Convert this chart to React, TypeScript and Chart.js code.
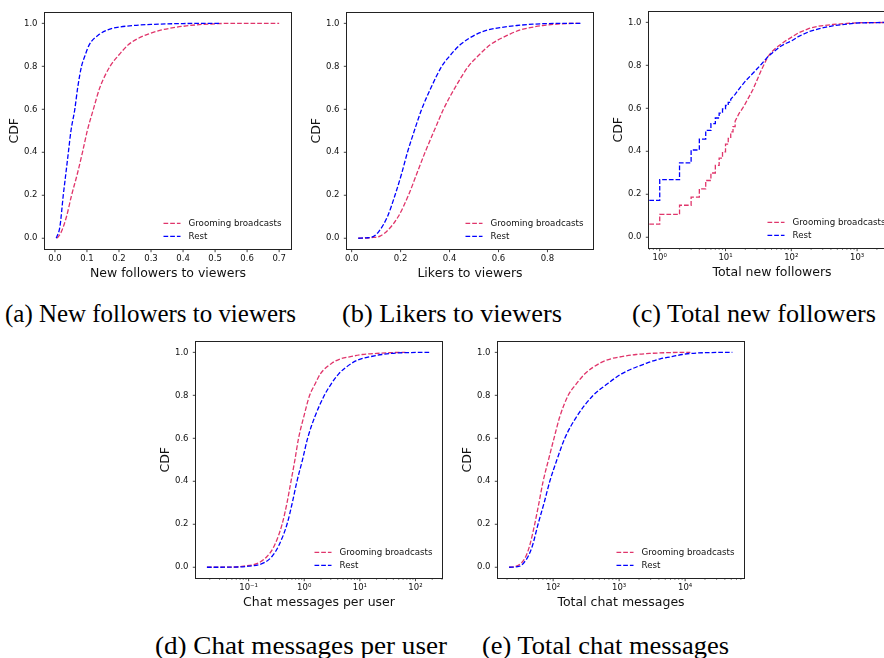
import React, { useEffect, useLayoutEffect, useRef } from 'react';
import { Chart, registerables } from 'chart.js';

Chart.register(...registerables);

// ---------------- data ----------------
const SERIES_LABELS = ['Grooming broadcasts', 'Rest'];
const SERIES_COLORS = ['#E0356B', '#0000FF'];

const Y_TICKS = [0, 0.2, 0.4, 0.6, 0.8, 1.0];
const Y_TICK_LABELS = ['0.0', '0.2', '0.4', '0.6', '0.8', '1.0'];

// (a) New followers to viewers
const A_TICKS = [0, 0.1, 0.2, 0.3, 0.4, 0.5, 0.6, 0.7];
const A_TICK_LABELS = ['0.0', '0.1', '0.2', '0.3', '0.4', '0.5', '0.6', '0.7'];
const A_GROOM_X = [0.007, 0.02, 0.036, 0.052, 0.07, 0.086, 0.101, 0.12, 0.14, 0.172, 0.198, 0.229, 0.26, 0.291, 0.33, 0.37, 0.41, 0.45, 0.5, 0.55, 0.7];
const A_GROOM_Y = [0, 0.03, 0.1, 0.2, 0.3, 0.4, 0.5, 0.6, 0.7, 0.8, 0.85, 0.9, 0.93, 0.95, 0.968, 0.98, 0.988, 0.994, 0.998, 1.0, 1.0];
const A_REST_X = [0.004, 0.0156, 0.026, 0.034, 0.042, 0.05, 0.062, 0.071, 0.083, 0.094, 0.107, 0.14, 0.165, 0.19, 0.245, 0.3, 0.4, 0.517];
const A_REST_Y = [0, 0.054, 0.2, 0.3, 0.4, 0.5, 0.6, 0.7, 0.8, 0.85, 0.9, 0.95, 0.97, 0.98, 0.99, 0.995, 0.999, 1.0];

// (b) Likers to viewers
const B_TICKS = [0, 0.2, 0.4, 0.6, 0.8];
const B_TICK_LABELS = ['0.0', '0.2', '0.4', '0.6', '0.8'];
const B_GROOM_X = [0.027, 0.08, 0.116, 0.15, 0.19, 0.232, 0.266, 0.3, 0.337, 0.375, 0.422, 0.477, 0.518, 0.566, 0.647, 0.69, 0.729, 0.78, 0.825, 0.88, 0.94];
const B_GROOM_Y = [0, 0.003, 0.01, 0.04, 0.1, 0.2, 0.3, 0.4, 0.5, 0.6, 0.7, 0.8, 0.85, 0.9, 0.95, 0.97, 0.98, 0.99, 0.995, 0.999, 1.0];
const B_REST_X = [0.027, 0.06, 0.082, 0.11, 0.146, 0.177, 0.204, 0.228, 0.256, 0.286, 0.324, 0.368, 0.402, 0.443, 0.511, 0.56, 0.606, 0.675, 0.74, 0.8, 0.94];
const B_REST_Y = [0, 0.002, 0.005, 0.03, 0.1, 0.2, 0.3, 0.4, 0.5, 0.6, 0.7, 0.8, 0.85, 0.9, 0.95, 0.97, 0.98, 0.99, 0.996, 0.999, 1.0];

// (c) Total new followers (integer counts: leading values are discrete steps)
const C_TICKS = [1, 10, 100, 1000];
const C_TICK_LABELS = ['10⁰', '10¹', '10²', '10³'];
const C_GROOM_X = [0, 1, 2, 3, 4, 5, 6, 7, 8, 9, 10, 11, 12, 13, 14, 16, 18, 20, 22, 26, 30, 35, 40, 44, 50, 58, 66, 80, 100, 130, 187, 260, 425, 700, 1000, 2000, 3770];
const C_GROOM_Y = [0.061, 0.106, 0.149, 0.187, 0.225, 0.264, 0.299, 0.334, 0.368, 0.397, 0.433, 0.46, 0.49, 0.515, 0.54, 0.575, 0.598, 0.622, 0.645, 0.686, 0.73, 0.778, 0.815, 0.84, 0.862, 0.88, 0.893, 0.912, 0.93, 0.952, 0.972, 0.982, 0.99, 0.995, 0.998, 0.999, 1.0];
const C_GROOM_STEPS = 15;
const C_REST_X = [0, 1, 2, 3, 4, 5, 6, 7, 8, 9, 10, 11, 12, 14, 17, 20.5, 25, 29, 35, 44, 55, 66, 80, 100, 130, 187, 260, 425, 700, 1000, 2000, 3770];
const C_REST_Y = [0.172, 0.268, 0.346, 0.406, 0.457, 0.497, 0.529, 0.555, 0.578, 0.597, 0.613, 0.628, 0.642, 0.665, 0.70, 0.73, 0.757, 0.778, 0.805, 0.84, 0.865, 0.885, 0.9, 0.913, 0.935, 0.957, 0.97, 0.984, 0.992, 0.997, 0.999, 1.0];
const C_REST_STEPS = 13;

// (d) Chat messages per user
const D_TICKS = [0.1, 1, 10, 100];
const D_TICK_LABELS = ['10⁻¹', '10⁰', '10¹', '10²'];
const D_GROOM_X = [0.0178, 0.05, 0.081, 0.15, 0.214, 0.29, 0.4, 0.49, 0.578, 0.68, 0.79, 0.98, 1.25, 1.55, 1.95, 3.16, 4.5, 6.8, 11, 20, 40, 66];
const D_GROOM_Y = [0, 0.001, 0.005, 0.02, 0.05, 0.1, 0.2, 0.3, 0.4, 0.5, 0.6, 0.7, 0.8, 0.85, 0.9, 0.95, 0.97, 0.98, 0.99, 0.995, 0.999, 1.0];
const D_REST_X = [0.0178, 0.05, 0.1, 0.186, 0.263, 0.347, 0.49, 0.61, 0.74, 0.93, 1.15, 1.55, 2.3, 3.0, 4.17, 7.2, 10.5, 15.5, 25, 35, 80, 186];
const D_REST_Y = [0, 0.0005, 0.005, 0.02, 0.05, 0.1, 0.2, 0.3, 0.4, 0.5, 0.6, 0.7, 0.8, 0.85, 0.9, 0.95, 0.97, 0.98, 0.99, 0.995, 0.999, 1.0];

// (e) Total chat messages
const E_TICKS = [100, 1000, 10000];
const E_TICK_LABELS = ['10²', '10³', '10⁴'];
const E_GROOM_X = [21.5, 27.7, 33, 38.5, 44, 52.5, 61, 70.5, 85, 103, 126, 169, 220, 303, 512, 750, 1090, 1800, 2940, 6000, 12000];
const E_GROOM_Y = [0, 0.005, 0.02, 0.05, 0.1, 0.2, 0.3, 0.4, 0.5, 0.6, 0.7, 0.8, 0.85, 0.9, 0.95, 0.97, 0.98, 0.99, 0.995, 0.999, 1.0];
const E_REST_X = [21.5, 31, 35.8, 41.7, 48.5, 59, 73, 89, 114, 150, 226, 405, 640, 1090, 2630, 4200, 6300, 9000, 12000, 25000, 52000];
const E_REST_Y = [0, 0.005, 0.02, 0.05, 0.1, 0.2, 0.3, 0.4, 0.5, 0.6, 0.7, 0.8, 0.85, 0.9, 0.95, 0.97, 0.98, 0.99, 0.995, 0.999, 1.0];

const CAPTIONS = [
  '(a) New followers to viewers',
  '(b) Likers to viewers',
  '(c) Total new followers',
  '(d) Chat messages per user',
  '(e) Total chat messages',
];
const X_TITLES = [
  'New followers to viewers',
  'Likers to viewers',
  'Total new followers',
  'Chat messages per user',
  'Total chat messages',
];

// ---------------- layout ----------------
const MARGIN = { left: 45, top: 10, right: 10, bottom: 42 };
const PLOT_W = 246;
const PLOT_H = 239;
const SANS = '"DejaVu Sans", sans-serif';

type SeriesDef = { x: number[]; y: number[]; steps?: number };
type PanelDef = {
  plotLeft: number;
  plotTop: number;
  xType: 'linear' | 'logarithmic';
  xMin: number;
  xMax: number;
  xTicks: number[];
  xTickLabels: string[];
  series: SeriesDef[];
  stepped?: boolean;
  xTitle: string;
};

const PANELS: PanelDef[] = [
  { plotLeft: 45, plotTop: 10, xType: 'linear', xMin: -0.031, xMax: 0.737, xTicks: A_TICKS, xTickLabels: A_TICK_LABELS,
    series: [{ x: A_GROOM_X, y: A_GROOM_Y }, { x: A_REST_X, y: A_REST_Y }], xTitle: X_TITLES[0] },
  { plotLeft: 347, plotTop: 10, xType: 'linear', xMin: -0.019, xMax: 0.986, xTicks: B_TICKS, xTickLabels: B_TICK_LABELS,
    series: [{ x: B_GROOM_X, y: B_GROOM_Y }, { x: B_REST_X, y: B_REST_Y }], xTitle: X_TITLES[1] },
  { plotLeft: 649, plotTop: 9, xType: 'logarithmic', xMin: 0.687, xMax: 3767, xTicks: C_TICKS, xTickLabels: C_TICK_LABELS,
    series: [{ x: C_GROOM_X, y: C_GROOM_Y, steps: C_GROOM_STEPS }, { x: C_REST_X, y: C_REST_Y, steps: C_REST_STEPS }],
    stepped: true, xTitle: X_TITLES[2] },
  { plotLeft: 196, plotTop: 339, xType: 'logarithmic', xMin: 0.01132, xMax: 300, xTicks: D_TICKS, xTickLabels: D_TICK_LABELS,
    series: [{ x: D_GROOM_X, y: D_GROOM_Y }, { x: D_REST_X, y: D_REST_Y }], xTitle: X_TITLES[3] },
  { plotLeft: 498, plotTop: 339, xType: 'logarithmic', xMin: 14.6, xMax: 78000, xTicks: E_TICKS, xTickLabels: E_TICK_LABELS,
    series: [{ x: E_GROOM_X, y: E_GROOM_Y }, { x: E_REST_X, y: E_REST_Y }], xTitle: X_TITLES[4] },
];

const CAPTION_POS = [
  { left: 5, width: 291, top: 301 },
  { left: 342, width: 220, top: 301 },
  { left: 632, width: 244, top: 301 },
  { left: 155, width: 292, top: 633 },
  { left: 482, width: 247, top: 633 },
];

// ---------------- helpers ----------------
function buildPoints(s: SeriesDef, zeroAt: number) {
  const pts: { x: number; y: number }[] = [];
  const steps = s.steps || 0;
  for (let i = 0; i < s.x.length; i++) {
    const x = s.x[i] === 0 ? zeroAt : s.x[i];
    if (i > 0 && i < steps) pts.push({ x, y: s.y[i - 1] });
    pts.push({ x, y: s.y[i] });
  }
  return pts;
}

function tickObjects(p: PanelDef) {
  const out: { value: number; major: boolean }[] = p.xTicks.map((v) => ({ value: v, major: true }));
  if (p.xType === 'logarithmic') {
    const e0 = Math.floor(Math.log10(p.xMin));
    const e1 = Math.ceil(Math.log10(p.xMax));
    for (let e = e0; e <= e1; e++) {
      for (let k = 2; k <= 9; k++) {
        const v = k * Math.pow(10, e);
        if (v >= p.xMin && v <= p.xMax) out.push({ value: v, major: false });
      }
    }
  }
  return out.sort((a, b) => a.value - b.value);
}

function labelFor(values: number[], labels: string[], v: number) {
  const j = values.findIndex((t) => Math.abs(t - v) <= 1e-9 * Math.max(1, Math.abs(t)));
  return j >= 0 ? labels[j] : '';
}

const mplPlugin = {
  id: 'mplDecor',
  afterDatasetsDraw(chart: any) {
    const { ctx, chartArea: a } = chart;
    ctx.save();
    ctx.font = `8.7px ${SANS}`;
    ctx.textBaseline = 'middle';
    ctx.textAlign = 'left';
    chart.data.datasets.forEach((ds: any, i: number) => {
      const y = a.bottom - 25.6 + i * 13;
      ctx.strokeStyle = ds.borderColor;
      ctx.lineWidth = 1.3;
      ctx.setLineDash([4.7, 2]);
      ctx.beginPath();
      ctx.moveTo(a.right - 127.5, y);
      ctx.lineTo(a.right - 110.5, y);
      ctx.stroke();
      ctx.setLineDash([]);
      ctx.fillStyle = '#111';
      ctx.fillText(ds.label, a.right - 102.5, y);
    });
    ctx.restore();
  },
  afterDraw(chart: any) {
    const { ctx, chartArea: a } = chart;
    ctx.save();
    ctx.strokeStyle = '#111';
    const xs = chart.scales.x;
    const ys = chart.scales.y;
    xs.ticks.forEach((t: any) => {
      const len = t.major ? 3.2 : 1.8;
      ctx.lineWidth = t.major ? 0.8 : 0.6;
      const p = xs.getPixelForValue(t.value);
      ctx.beginPath();
      ctx.moveTo(p, a.bottom);
      ctx.lineTo(p, a.bottom + len);
      ctx.stroke();
    });
    ys.ticks.forEach((t: any) => {
      ctx.lineWidth = 0.8;
      const p = ys.getPixelForValue(t.value);
      ctx.beginPath();
      ctx.moveTo(a.left, p);
      ctx.lineTo(a.left - 3.2, p);
      ctx.stroke();
    });
    ctx.lineWidth = 1;
    ctx.strokeStyle = '#222';
    ctx.strokeRect(Math.round(a.left) - 0.5, Math.round(a.top) - 0.5, Math.round(a.right - a.left) + 1, Math.round(a.bottom - a.top) + 1);
    ctx.restore();
  },
};

// ---------------- components ----------------
function PanelChart({ panel }: { panel: PanelDef }) {
  const ref = useRef<HTMLCanvasElement>(null);
  const width = PLOT_W + MARGIN.left + MARGIN.right;
  const height = PLOT_H + MARGIN.top + MARGIN.bottom;
  useEffect(() => {
    const xTickObjs = tickObjects(panel);
    const chart = new Chart(ref.current as HTMLCanvasElement, {
      type: 'line',
      data: {
        datasets: panel.series.map((s, i) => ({
          label: SERIES_LABELS[i],
          data: buildPoints(s, panel.xMin * 0.5),
          borderColor: SERIES_COLORS[i],
          backgroundColor: SERIES_COLORS[i],
          borderWidth: 1.3,
          borderDash: [4.7, 2],
          pointRadius: 0,
          fill: false,
          tension: panel.stepped ? 0 : 0.4,
          cubicInterpolationMode: panel.stepped ? 'default' : 'monotone',
          clip: 0,
          order: i === 0 ? 1 : 0,
        })) as any,
      },
      plugins: [mplPlugin],
      options: {
        animation: false,
        responsive: false,
        devicePixelRatio: 1,
        events: [],
        layout: { padding: { top: MARGIN.top, right: MARGIN.right, left: 0, bottom: 0 } },
        plugins: { legend: { display: false }, tooltip: { enabled: false }, title: { display: false } },
        scales: {
          x: {
            type: panel.xType,
            min: panel.xMin,
            max: panel.xMax,
            grid: { display: false, drawTicks: false, tickLength: 0 },
            border: { display: false },
            ticks: {
              autoSkip: false,
              maxRotation: 0,
              minRotation: 0,
              padding: 4.5,
              color: '#111',
              font: { family: SANS, size: 8.5 },
              callback: (v: any) => labelFor(panel.xTicks, panel.xTickLabels, Number(v)),
            },
            afterBuildTicks: (s: any) => {
              s.ticks = xTickObjs.map((t) => ({ ...t }));
            },
            afterFit: (s: any) => {
              s.height = MARGIN.bottom;
            },
            title: {
              display: true,
              text: panel.xTitle,
              color: '#111',
              font: { family: SANS, size: 12.5 },
              padding: { top: 0, bottom: 10 },
            },
          } as any,
          y: {
            type: 'linear',
            min: -0.05,
            max: 1.05,
            grid: { display: false, drawTicks: false, tickLength: 0 },
            border: { display: false },
            ticks: {
              autoSkip: false,
              padding: 7.5,
              color: '#111',
              font: { family: SANS, size: 8.5 },
              callback: (v: any) => labelFor(Y_TICKS, Y_TICK_LABELS, Number(v)),
            },
            afterBuildTicks: (s: any) => {
              s.ticks = Y_TICKS.map((v) => ({ value: v, major: true }));
            },
            afterFit: (s: any) => {
              s.width = MARGIN.left;
            },
            title: {
              display: true,
              text: 'CDF',
              color: '#111',
              font: { family: SANS, size: 12.5 },
              padding: { top: 7.5, bottom: 0 },
            },
          } as any,
        },
      },
    });
    return () => chart.destroy();
  }, [panel]);
  return (
    <canvas
      ref={ref}
      width={width}
      height={height}
      style={{
        position: 'absolute',
        left: panel.plotLeft - MARGIN.left,
        top: panel.plotTop - MARGIN.top,
        width,
        height,
        display: 'block',
      }}
    />
  );
}

function Caption({ text, left, width, top }: { text: string; left: number; width: number; top: number }) {
  const ref = useRef<HTMLSpanElement>(null);
  useLayoutEffect(() => {
    const el = ref.current;
    if (!el) return;
    const w = el.getBoundingClientRect().width;
    if (w > 0) el.style.transform = `scaleX(${width / w})`;
  }, [width]);
  return (
    <span
      ref={ref}
      style={{
        position: 'absolute',
        left,
        top,
        whiteSpace: 'nowrap',
        fontFamily: '"Liberation Serif", "Times New Roman", serif',
        fontSize: 25,
        lineHeight: '25px',
        color: '#000',
        transformOrigin: '0 0',
      }}
    >
      {text}
    </span>
  );
}

export default function App() {
  return (
    <div
      style={{
        position: 'absolute',
        left: 0,
        top: 0,
        width: 884,
        height: 658,
        overflow: 'hidden',
        background: '#fff',
      }}
    >
      {PANELS.map((p, i) => (
        <PanelChart key={i} panel={p} />
      ))}
      {CAPTIONS.map((c, i) => (
        <Caption key={i} text={c} {...CAPTION_POS[i]} />
      ))}
    </div>
  );
}
